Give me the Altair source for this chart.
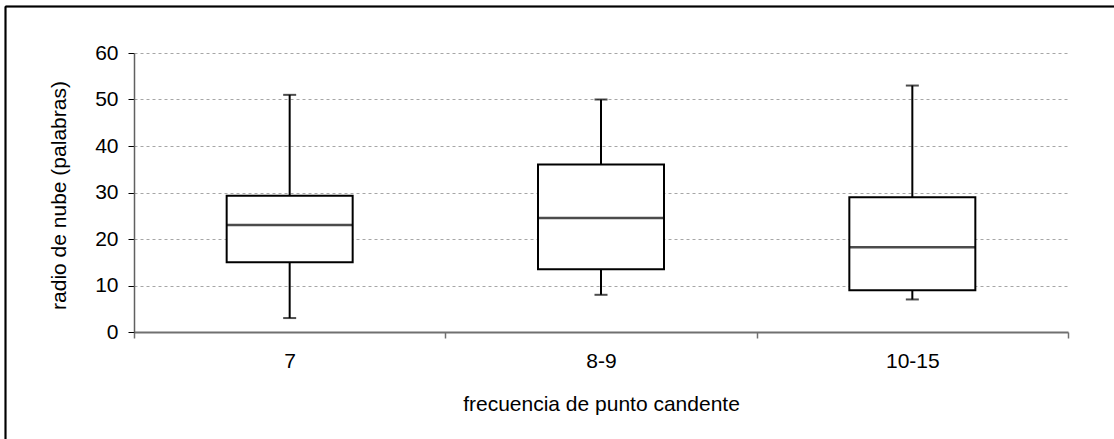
import altair as alt
import pandas as pd

# Box-plot summary per hot-spot frequency group
categories = ["7", "8-9", "10-15"]
lower = [3, 8, 7]
q1 = [15, 13.5, 9]
median = [23, 24.5, 18.2]
q3 = [29.3, 36, 29]
upper = [51, 50, 53]

df = pd.DataFrame({
    "grupo": categories,
    "lower": lower,
    "q1": q1,
    "median": median,
    "q3": q3,
    "upper": upper,
})

FONT = "Liberation Sans"
FS = 21
W, H = 934, 279

x_enc = alt.X(
    "grupo:N",
    sort=categories,
    scale=alt.Scale(paddingInner=0, paddingOuter=0),
    axis=alt.Axis(
        title="frecuencia de punto candente",
        labelAngle=0,
        tickBand="extent",
        tickSize=6,
        tickColor="#707070",
        tickWidth=1.5,
        domainColor="#707070",
        domainWidth=2,
        labelPadding=12,
        labelFontSize=FS,
        labelColor="#000000",
        labelFont=FONT,
        titleFont=FONT,
        titleFontSize=FS,
        titleFontWeight="normal",
        titleColor="#000000",
        titleY=78,
        titleBaseline="alphabetic",
        grid=False,
    ),
)

y_scale = alt.Scale(domain=[0, 60], nice=False, zero=True)

whisker = alt.Chart(df).mark_rule(color="black", strokeWidth=2).encode(
    x=x_enc,
    y=alt.Y(
        "lower:Q",
        scale=y_scale,
        axis=alt.Axis(
            title="radio de nube (palabras)",
            values=[0, 10, 20, 30, 40, 50, 60],
            tickSize=6,
            tickColor="#000000",
            tickWidth=1,
            domainColor="#606060",
            domainWidth=1.5,
            labelPadding=10,
            labelFontSize=FS,
            labelColor="#000000",
            labelFont=FONT,
            titleFont=FONT,
            titleFontSize=FS,
            titleFontWeight="normal",
            titleColor="#000000",
            titleX=-75,
            titleY=142,
            titleAlign="center",
            titleBaseline="middle",
            grid=True,
            gridColor="#a6a6a6",
            gridDash=[3, 3],
            gridWidth=1,
        ),
    ),
    y2="upper:Q",
)

caps_low = alt.Chart(df).mark_tick(color="black", size=13, thickness=2).encode(
    x=alt.X("grupo:N", sort=categories), y=alt.Y("lower:Q", scale=y_scale)
)
caps_high = alt.Chart(df).mark_tick(color="black", size=13, thickness=2).encode(
    x=alt.X("grupo:N", sort=categories), y=alt.Y("upper:Q", scale=y_scale)
)

box = alt.Chart(df).mark_bar(
    size=126, fill="white", stroke="black", strokeWidth=2
).encode(
    x=alt.X("grupo:N", sort=categories),
    y=alt.Y("q1:Q", scale=y_scale),
    y2="q3:Q",
)

med = alt.Chart(df).mark_tick(color="black", size=126, thickness=2.5).encode(
    x=alt.X("grupo:N", sort=categories), y=alt.Y("median:Q", scale=y_scale)
)

# Outer frame of the figure: top and left edges
frame_top = alt.Chart(df).mark_rule(color="black", strokeWidth=1.5).encode(
    x=alt.value(-128.5), x2=alt.value(W + 46), y=alt.value(-46.5)
)
frame_left = alt.Chart(df).mark_rule(color="black", strokeWidth=1.5).encode(
    x=alt.value(-128.5), y=alt.value(-46.5), y2=alt.value(H + 107)
)

chart = alt.layer(
    whisker, caps_low, caps_high, box, med, frame_top, frame_left
).properties(
    width=W,
    height=H,
    autosize=alt.AutoSizeParams(type="none"),
    padding={"left": 134, "top": 53, "right": 46, "bottom": 107},
    background="white",
).configure_view(stroke=None).configure_axisX(grid=False)

chart.save("out.html", embed_options={"renderer": "svg", "actions": False})
